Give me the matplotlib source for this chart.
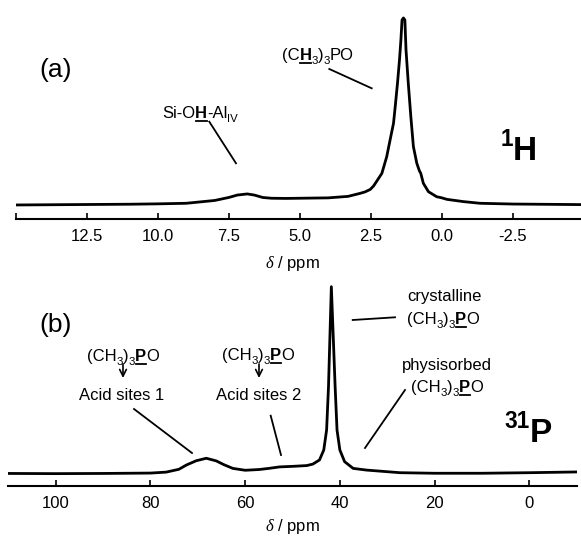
import matplotlib
matplotlib.use('Agg')
import matplotlib.pyplot as plt
from matplotlib.lines import Line2D
from matplotlib.patches import FancyArrowPatch

plt.rcParams['font.family'] = ['Liberation Sans', 'DejaVu Sans']
plt.rcParams['mathtext.fontset'] = 'custom'
plt.rcParams['mathtext.rm'] = 'Liberation Sans'
plt.rcParams['mathtext.it'] = 'Liberation Serif:italic'

# 1H spectrum (ppm, intensity)
h_ppm = [15.0, 13.0, 11.0, 10.0, 9.0, 8.0, 7.5, 7.2, 6.85, 6.6, 6.3, 6.0, 5.5, 5.0,
         4.0, 3.3, 2.88, 2.7, 2.52, 2.4, 2.30, 2.11, 1.94, 1.82, 1.70, 1.64, 1.56, 1.49,
         1.44, 1.40, 1.35, 1.30, 1.26, 1.18, 1.09, 1.00, 0.88, 0.79, 0.74, 0.65, 0.47,
         0.18, 0.02, -0.18, -0.76, -1.35, -2.5, -4.9]
h_int = [0.0, 0.2, 0.4, 0.6, 0.9, 2.4, 4.0, 5.3, 5.9, 5.3, 4.0, 3.6, 3.5, 3.6,
         3.8, 4.6, 6.2, 7.0, 8.3, 10.2, 12.5, 16.9, 25.8, 34.8, 43.7, 52.6, 65.1, 77.5,
         88.2, 98.9, 100.0, 98.9, 82.9, 65.1, 47.2, 31.2, 22.3, 18.3, 16.9, 11.6, 7.1,
         4.4, 3.9, 3.0, 1.8, 0.9, 0.5, 0.2]

# 31P spectrum (ppm, intensity)
p_ppm = [110, 100, 90, 80, 76.7, 74.0, 72.4, 70.3, 68.2, 66.1, 64.5, 62.6, 60.0,
         57.0, 55.0, 52.7, 49.9, 47.0, 45.7, 44.3, 43.4, 42.8, 42.4, 42.1, 41.8,
         41.4, 41.0, 40.6, 40.0, 39.0, 37.2, 34.4, 27.3, 20, 10, 0, -5, -10]
p_int = [0.3, 0.2, 0.3, 0.5, 1.0, 2.5, 4.8, 7.1, 8.4, 7.0, 5.0, 3.0, 2.0,
         2.4, 3.0, 3.8, 4.1, 4.5, 5.3, 7.5, 12.8, 23.5, 46.6, 73.4, 100.0,
         73.4, 46.6, 23.5, 12.8, 6.6, 3.0, 2.1, 0.7, 0.4, 0.4, 0.7, 0.9, 1.1]

h_ticks = [15, 12.5, 10, 7.5, 5, 2.5, 0, -2.5]
h_ticklabels = ['', '12.5', '10.0', '7.5', '5.0', '2.5', '0.0', '-2.5']
p_ticks = [100, 80, 60, 40, 20, 0]
p_ticklabels = ['100', '80', '60', '40', '20', '0']

W, H = 581, 537
fig = plt.figure(figsize=(W / 100, H / 100), dpi=100)
renderer = fig.canvas.get_renderer()


def fx(x):
    return x / W


def fy(y):
    return 1 - y / H


def style_axis(ax, ticks, labels):
    for s in ['left', 'right', 'top']:
        ax.spines[s].set_visible(False)
    ax.spines['bottom'].set_linewidth(1.5)
    ax.set_yticks([])
    ax.set_xticks(ticks)
    ax.set_xticklabels(labels)
    ax.tick_params(axis='x', direction='in', length=4, width=1.2, pad=7.5, labelsize=12)
    ax.patch.set_alpha(0)


# (a) 1H
ax1 = fig.add_axes([fx(15.7), fy(219), 1 - fx(15.7), 219 / H])
ax1.plot(h_ppm, h_int, color='black', lw=2.0)
ax1.set_xlim(15, -4.9)
ax1.set_ylim(-7.5, 109.6)
style_axis(ax1, h_ticks, h_ticklabels)

# (b) 31P
ax2 = fig.add_axes([fx(8.3), fy(486), fx(576.7) - fx(8.3), 216 / H])
ax2.plot(p_ppm, p_int, color='black', lw=2.0)
ax2.set_xlim(110, -10)
ax2.set_ylim(-6.4, 108.9)
style_axis(ax2, p_ticks, p_ticklabels)

fig.text(fx(292), fy(264), r'$\delta$ / ppm', fontsize=12, ha='center', va='center')
fig.text(fx(292), fy(527), r'$\delta$ / ppm', fontsize=12, ha='center', va='center')


def rich(x, y, parts, size=12):
    # parts drawn side by side, centred on x, baseline at y (pixels from top)
    items = []
    total = 0
    for s, kind in parts:
        fs = size * 0.68 if kind in ('sub', 'sup') else size
        fw = 'bold' if kind in ('bold', 'ubold', 'sup') else 'normal'
        t = fig.text(0, 0, s, fontsize=fs, fontweight=fw, va='baseline', ha='left')
        w = t.get_window_extent(renderer).width
        items.append((t, w, kind))
        total += w
    x0 = x - total / 2
    for t, w, kind in items:
        dy = 0
        if kind == 'sub':
            dy = 0.25 * size * 100 / 72
        elif kind == 'sup':
            dy = -0.42 * size * 100 / 72
        t.set_position((fx(x0), fy(y + dy)))
        if kind == 'ubold':
            fig.add_artist(Line2D([fx(x0 + 0.5), fx(x0 + w - 0.5)], [fy(y + 2.5)] * 2,
                                  color='black', lw=1.3))
        x0 += w


def seg(x0, y0, x1, y1):
    fig.add_artist(Line2D([fx(x0), fx(x1)], [fy(y0), fy(y1)], color='black', lw=1.3))


def arrow_down(x, y0, y1):
    fig.add_artist(FancyArrowPatch((fx(x), fy(y0)), (fx(x), fy(y1)), arrowstyle='->',
                                   mutation_scale=12, lw=1.2, color='black',
                                   shrinkA=0, shrinkB=0, transform=fig.transFigure))


fig.text(fx(56), fy(70), '(a)', fontsize=19, ha='center', va='center')
fig.text(fx(56), fy(325), '(b)', fontsize=19, ha='center', va='center')

f_top = [('(C', 'n'), ('H', 'ubold'), ('3', 'sub'), (')', 'n'), ('3', 'sub'), ('PO', 'n')]
f_p = [('(CH', 'n'), ('3', 'sub'), (')', 'n'), ('3', 'sub'), ('P', 'ubold'), ('O', 'n')]

rich(200, 118, [('Si-O', 'n'), ('H', 'ubold'), ('-Al', 'n'), ('IV', 'sub')])
seg(209.3, 121.7, 236, 163.3)
rich(318, 60, f_top)
seg(329.3, 69, 371.7, 88.3)
rich(519, 160, [('1', 'sup'), ('H', 'bold')], size=24)

rich(123, 361, f_p)
arrow_down(123, 364, 378)
rich(122, 400, [('Acid sites 1', 'n')])
seg(134, 409, 192, 453)

rich(258, 360, f_p)
arrow_down(259, 364, 378)
rich(259, 400, [('Acid sites 2', 'n')])
seg(270.7, 415.7, 281, 455)

rich(444, 301, [('crystalline', 'n')])
rich(443, 324, f_p)
seg(352.7, 320, 395, 317.3)

rich(447, 370, [('physisorbed', 'n')])
rich(447, 392, f_p)
seg(365, 448, 405, 390)
rich(528, 442, [('31', 'sup'), ('P', 'bold')], size=24)

fig.savefig('out.png', dpi=100)
